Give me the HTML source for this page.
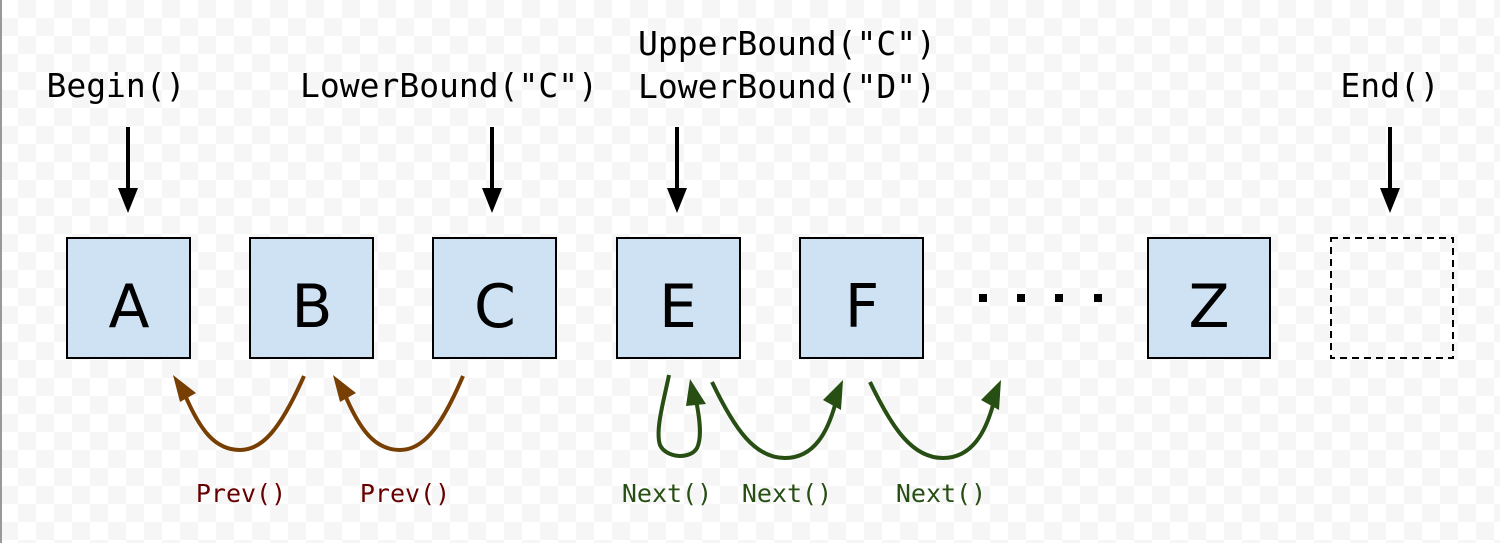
<!DOCTYPE html>
<html><head><style>
html,body{margin:0;padding:0}
body{width:1500px;height:543px;overflow:hidden;
background-color:#fff;
background-image:conic-gradient(#f6f6f6 25%,#fff 0 50%,#f6f6f6 0 75%,#fff 0);
background-size:36px 36px;}
svg{position:absolute;left:0;top:0}
</style></head><body>
<svg width="1500" height="543" viewBox="0 0 1500 543">
<line x1="1" y1="0" x2="1" y2="543" stroke="#999" stroke-width="2"/>
<g font-family="'DejaVu Sans Mono','Liberation Mono',monospace" font-size="33" text-anchor="middle" fill="#000">
<text x="116" y="97">Begin()</text>
<text x="449" y="97">LowerBound("C")</text>
<text x="787" y="55">UpperBound("C")</text>
<text x="787" y="98">LowerBound("D")</text>
<text x="1390" y="97">End()</text>
</g>
<g stroke="#000" stroke-width="4">
<line x1="128" y1="127" x2="128" y2="192"/><line x1="492" y1="127" x2="492" y2="192"/>
<line x1="677" y1="127" x2="677" y2="192"/><line x1="1390" y1="127" x2="1390" y2="192"/>
</g>
<g fill="#000">
<path d="M118,188 L138,188 L128,213 z"/><path d="M482,188 L502,188 L492,213 z"/>
<path d="M667,188 L687,188 L677,213 z"/><path d="M1380,188 L1400,188 L1390,213 z"/>
</g>
<g fill="#cfe2f3" stroke="#000" stroke-width="2">
<rect x="67" y="238" width="123" height="120"/>
<rect x="250" y="238" width="123" height="120"/>
<rect x="433" y="238" width="123" height="120"/>
<rect x="617" y="238" width="123" height="120"/>
<rect x="800" y="238" width="123" height="120"/>
<rect x="1148" y="238" width="122" height="120"/>
</g>
<rect x="1331" y="238" width="122" height="120" fill="none" stroke="#000" stroke-width="2" stroke-dasharray="7,5"/>
<g font-family="'DejaVu Sans','Liberation Sans',sans-serif" font-size="60" text-anchor="middle" fill="#000">
<text x="129" y="327">A</text><text x="312" y="327">B</text><text x="495" y="327">C</text>
<text x="678" y="327">E</text><text x="862" y="327">F</text><text x="1209" y="327">Z</text>
</g>
<g fill="#000"><rect x="979" y="294" width="8" height="8"/><rect x="1017" y="294" width="8" height="8"/><rect x="1055" y="294" width="8" height="8"/><rect x="1094" y="294" width="8" height="8"/></g>
<g fill="none" stroke="#783f04" stroke-width="4">
<path d="M304,376 C280,430 262,450 240,450 C215,450 200,430 185,395"/>
<path d="M463,376 C440,430 422,450 400,450 C375,450 360,430 345,395"/>
</g>
<g fill="#783f04">
<path d="M173,375 L196,393 L180,402 z"/><path d="M333,375 L356,393 L340,402 z"/>
</g>
<g fill="none" stroke="#274e13" stroke-width="4">
<path d="M669,375 C664,400 655,430 660,445 C666,458 690,460 697,448 C702,438 700,420 696,400"/>
<path d="M712,382 C735,430 755,458 785,458 C815,458 828,430 835,405"/>
<path d="M870,382 C893,430 913,458 943,458 C973,458 986,430 993,405"/>
</g>
<g fill="#274e13">
<path d="M690,379 L706,404 L686,406 z"/><path d="M843,380 L841,410 L823,400 z"/><path d="M1001,380 L999,410 L981,400 z"/>
</g>
<g font-family="'DejaVu Sans Mono','Liberation Mono',monospace" font-size="25" text-anchor="middle">
<text x="241" y="502" fill="#660000">Prev()</text>
<text x="405" y="502" fill="#660000">Prev()</text>
<text x="667" y="502" fill="#274e13">Next()</text>
<text x="787" y="502" fill="#274e13">Next()</text>
<text x="941" y="502" fill="#274e13">Next()</text>
</g>
</svg>
</body></html>
